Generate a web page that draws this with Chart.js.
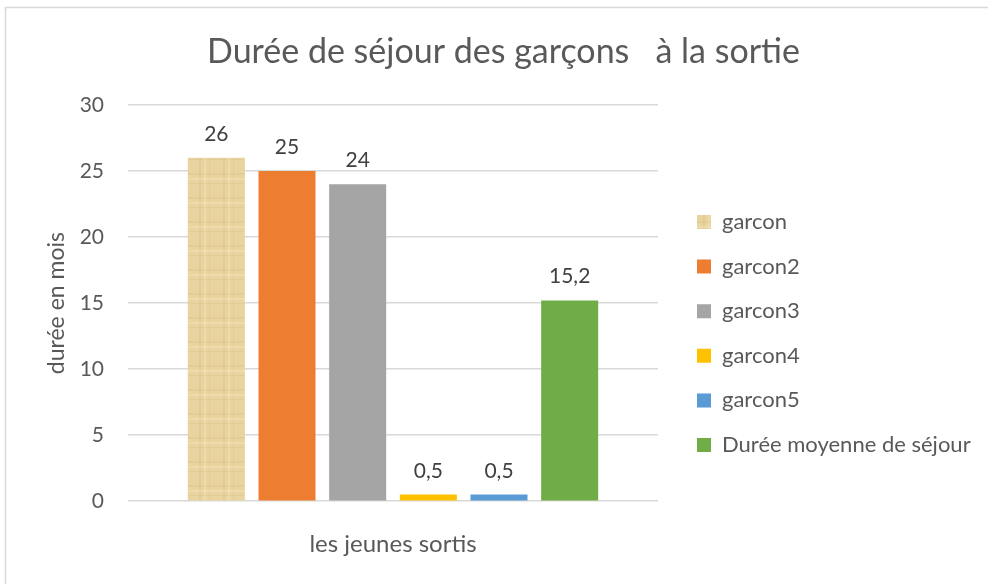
<!DOCTYPE html>
<html>
<head>
<meta charset="utf-8">
<script src="https://cdn.jsdelivr.net/npm/chart.js@4"></script>
<style>
    html, body { margin: 0; padding: 0; background: #fff; }
    #wrap { width: 988px; height: 584px; position: relative; }
</style>
</head>
<body>
<div id="wrap"><canvas id="chart" width="988" height="584"></canvas></div>
<script>
const categories = ['les jeunes sortis'];
const seriesNames = ['garcon', 'garcon2', 'garcon3', 'garcon4', 'garcon5', 'Durée moyenne de séjour'];
const seriesValues = [26, 25, 24, 0.5, 0.5, 15.2];
const yTicks = [0, 5, 10, 15, 20, 25, 30];

const FONT = 'Lato, "Open Sans", sans-serif';
const TEXT = '#595959';

// papyrus-like texture for the first bar
function papyrus() {
    const c = document.createElement('canvas');
    c.width = 24; c.height = 24;
    const g = c.getContext('2d');
    g.fillStyle = '#e9d39e';
    g.fillRect(0, 0, 24, 24);
    g.fillStyle = 'rgba(200,170,110,0.18)';
    g.fillRect(0, 5, 24, 2);
    g.fillRect(0, 15, 24, 1);
    g.fillRect(7, 0, 2, 24);
    g.fillRect(17, 0, 1, 24);
    g.fillStyle = 'rgba(255,245,215,0.25)';
    g.fillRect(0, 10, 24, 2);
    g.fillRect(12, 0, 2, 24);
    return g.createPattern(c, 'repeat');
}

const colors = [papyrus(), '#ed7d31', '#a5a5a5', '#ffc000', '#5b9bd5', '#70ad47'];

const fmt = v => String(v).replace('.', ',');

const frame = {
    id: 'frame',
    beforeDraw(chart) {
        const ctx = chart.ctx;
        ctx.save();
        ctx.strokeStyle = '#d9d9d9';
        ctx.lineWidth = 1.5;
        ctx.strokeRect(5.5, 7.5, 1100, 1100);
        ctx.restore();
    }
};

const valueLabels = {
    id: 'valueLabels',
    afterDatasetsDraw(chart) {
        const ctx = chart.ctx;
        ctx.save();
        ctx.font = '21px ' + FONT;
        ctx.fillStyle = '#404040';
        ctx.textAlign = 'center';
        ctx.textBaseline = 'alphabetic';
        chart.data.datasets.forEach((ds, i) => {
            chart.getDatasetMeta(i).data.forEach((bar, j) => {
                ctx.fillText(fmt(ds.data[j]), bar.x, bar.y - 17);
            });
        });
        ctx.restore();
    }
};

// legend sits right of the plot: fixed width, items moved into place
const legendPlace = {
    id: 'legendPlace',
    beforeInit(chart) {
        const lg = chart.legend;
        const fit = lg.fit;
        lg.fit = function () {
            fit.call(this);
            this.width = 306;
        };
    },
    afterLayout(chart) {
        const lg = chart.legend;
        const pad = lg.options.labels.padding;
        lg.left = 697 - pad;
        lg.right = 988;
        lg.width = lg.right - lg.left;
        lg.top = 222 - 11 - pad;
        lg.bottom = 584;
    }
};

new Chart(document.getElementById('chart'), {
    type: 'bar',
    data: {
        labels: categories,
        datasets: seriesNames.map((name, i) => ({
            label: name,
            data: [seriesValues[i]],
            backgroundColor: colors[i],
            borderWidth: 0,
            categoryPercentage: 0.8,
            barPercentage: 0.807
        }))
    },
    options: {
        responsive: false,
        animation: false,
        layout: { padding: { left: 43, right: 24, top: 10, bottom: 21 } },
        plugins: {
            legend: {
                position: 'right',
                align: 'start',
                labels: {
                    boxWidth: 14,
                    boxHeight: 14,
                    padding: 22.6,
                    color: TEXT,
                    font: { family: FONT, size: 22 }
                }
            },
            tooltip: { enabled: false },
            title: {
                display: true,
                text: 'Durée de séjour des garçons   à la sortie',
                color: TEXT,
                font: { family: FONT, size: 34, weight: 'normal' },
                padding: { top: 21.6, bottom: 32.6 }
            }
        },
        scales: {
            x: {
                grid: { display: false, drawTicks: false },
                border: { display: false },
                ticks: { display: false },
                title: {
                    display: true,
                    text: categories[0],
                    color: TEXT,
                    font: { family: FONT, size: 24 },
                    padding: { top: 29, bottom: 4 }
                }
            },
            y: {
                min: 0,
                max: 30,
                afterBuildTicks: s => { s.ticks = yTicks.map(v => ({ value: v })); },
                afterFit: s => { s.width = 85; },
                grid: { color: '#d9d9d9', lineWidth: 1.5, drawTicks: false },
                border: { display: false },
                ticks: { color: TEXT, padding: 24, font: { family: FONT, size: 21 } },
                title: {
                    display: true,
                    text: 'durée en mois',
                    color: TEXT,
                    font: { family: FONT, size: 23 },
                    padding: { top: 0, bottom: 10 }
                }
            }
        }
    },
    plugins: [frame, valueLabels, legendPlace]
});
</script>
</body>
</html>
